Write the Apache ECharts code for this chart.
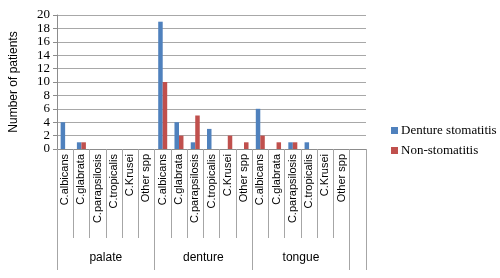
<!DOCTYPE html>
<html>
<head>
<meta charset="utf-8">
<script src="https://cdn.jsdelivr.net/npm/echarts@6/dist/echarts.min.js"></script>
<style>
  html, body { margin: 0; padding: 0; background: #fff; }
  #chart { width: 500px; height: 278px; }
</style>
</head>
<body>
<div id="chart"></div>
<script>
(function () {
	// species per site, last slot is an empty column like in the source sheet
	var species = ['C.albicans', 'C.glabrata', 'C.parapsilosis', 'C.tropicalis', 'C.Krusei', 'Other spp'];
	var sites = ['palate', 'denture', 'tongue'];
	var categories = species.concat(species, species, ['']);

	// values
	var dentureStomatitis = [4, 1, 0, 0, 0, 0,  19, 4, 1, 3, 0, 0,  6, 0, 1, 1, 0, 0,  0];
	var nonStomatitis     = [0, 1, 0, 0, 0, 0,  10, 2, 5, 0, 2, 1,  2, 1, 1, 0, 0, 0,  0];

	var yTicks = [0, 2, 4, 6, 8, 10, 12, 14, 16, 18, 20];

	var groupEdges = [0, 6, 12, 18, 19];
	var groupMids = [3, 9, 15];

	var chart = echarts.init(document.getElementById('chart'));
	chart.setOption({
		animation: false,
		backgroundColor: '#fff',
		grid: { left: 57, right: 134, top: 15, bottom: 129 },
		legend: {
			orient: 'vertical',
			left: 386,
			top: 119,
			itemWidth: 7,
			itemHeight: 7,
			itemGap: 7,
			icon: 'rect',
			textStyle: { fontFamily: 'Liberation Serif', fontSize: 13, color: '#000', padding: [0, 0, 0, -2] },
			data: ['Denture stomatitis', 'Non-stomatitis']
		},
		xAxis: [
			{
				type: 'category',
				data: categories,
				axisLine: { lineStyle: { color: '#8c8c8c', width: 1 } },
				axisTick: { show: true, interval: 0, length: 89, lineStyle: { color: '#a6a6a6' } },
				axisLabel: {
					interval: 0, rotate: 90, margin: 5,
					fontFamily: 'Liberation Sans', fontSize: 11, color: '#000'
				},
				splitLine: { show: false }
			},
			{
				type: 'value',
				min: 0,
				max: 19,
				position: 'bottom',
				axisLine: { show: false },
				axisTick: { show: true, customValues: groupEdges, length: 121, lineStyle: { color: '#a6a6a6' } },
				axisLabel: {
					customValues: groupMids,
					margin: 103,
					fontFamily: 'Liberation Sans', fontSize: 12, color: '#000',
					formatter: function (v) { return sites[groupMids.indexOf(v)] || ''; }
				},
				splitLine: { show: false }
			}
		],
		yAxis: {
			type: 'value',
			min: yTicks[0],
			max: yTicks[yTicks.length - 1],
			interval: 2,
			name: 'Number of patients',
			nameLocation: 'middle',
			nameGap: 37,
			nameTextStyle: { fontFamily: 'Liberation Sans', fontSize: 12, color: '#000' },
			axisLine: { show: true, lineStyle: { color: '#8c8c8c' } },
			axisTick: { show: true, length: 4, lineStyle: { color: '#8c8c8c' } },
			axisLabel: { margin: 7, fontFamily: 'Liberation Serif', fontSize: 13, color: '#000' },
			splitLine: { lineStyle: { color: '#a8a8a8', width: 1 } }
		},
		series: [
			{
				name: 'Denture stomatitis',
				type: 'bar',
				xAxisIndex: 0,
				data: dentureStomatitis,
				barWidth: 4.5,
				barGap: '0%',
				itemStyle: { color: '#4f81bd' }
			},
			{
				name: 'Non-stomatitis',
				type: 'bar',
				xAxisIndex: 0,
				data: nonStomatitis,
				barWidth: 4.5,
				barGap: '0%',
				itemStyle: { color: '#c0504d' }
			}
		]
	});
})();
</script>
</body>
</html>
